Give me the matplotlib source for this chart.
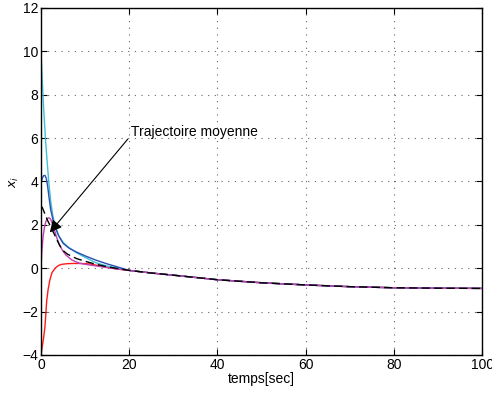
import matplotlib
matplotlib.use("Agg")
import matplotlib.pyplot as plt

plt.rcParams['font.family'] = ['Liberation Sans', 'DejaVu Sans']

# common tail shared by all trajectories (t >= 20)
t_tail = [20, 25, 30, 40, 50, 60, 70, 80, 90, 100]
y_tail = [-0.1, -0.22, -0.32, -0.53, -0.67, -0.77, -0.85, -0.9, -0.92, -0.93]

t_cyan = [0, 0.3, 0.6, 1.0, 1.4, 1.8, 2.2, 2.7, 3.3, 4.0, 5.0, 6.0, 8.0, 10, 12.5, 15, 17.5]
y_cyan = [10.0, 8.6, 7.4, 6.0, 4.9, 3.9, 3.1, 2.4, 1.9, 1.5, 1.2, 1.0, 0.72, 0.5, 0.25, 0.1, 0.0]

t_blue = [0, 0.3, 0.6, 0.9, 1.2, 1.5, 1.8, 2.2, 2.7, 3.3, 4.0, 5.0, 6.4, 8.0, 10, 12.5, 15, 17.5]
y_blue = [3.9, 4.15, 4.27, 4.28, 4.15, 3.8, 3.3, 2.7, 2.25, 1.85, 1.5, 1.15, 0.92, 0.75, 0.57, 0.37, 0.2, 0.05]

t_dash = [0, 0.3, 0.7, 1.1, 1.5, 2.0, 2.6, 3.3, 4.0, 4.9, 6.0, 8.0, 10, 12.5, 15, 17.5]
y_dash = [2.85, 2.8, 2.6, 2.4, 2.2, 2.0, 1.75, 1.45, 1.15, 0.83, 0.65, 0.45, 0.32, 0.18, 0.07, -0.02]

t_mag = [0, 0.2, 0.5, 0.8, 1.1, 1.4, 1.7, 1.9, 2.2, 2.6, 3.0, 3.5, 4.2, 5.0, 5.7, 7.0, 8.7, 11, 14, 17]
y_mag = [0.0, 0.8, 1.5, 1.9, 2.15, 2.28, 2.32, 2.32, 2.25, 2.05, 1.8, 1.45, 1.06, 0.78, 0.6, 0.38, 0.23, 0.15, 0.06, -0.03]

t_red = [0, 0.3, 0.6, 0.9, 1.3, 1.6, 2.0, 2.5, 3.2, 4.0, 4.7, 6.0, 7.3, 9, 11, 13, 15, 17.5]
y_red = [-4.0, -3.6, -3.2, -2.7, -1.5, -1.0, -0.55, -0.2, 0.0, 0.13, 0.18, 0.21, 0.22, 0.22, 0.2, 0.12, 0.04, -0.04]

fig = plt.figure(figsize=(4.92, 3.97), dpi=100)
ax = fig.add_axes([0.0833, 0.1058, 0.8967, 0.8742])

series = [
    (t_red, y_red, '#ff1a1a', '-'),
    (t_cyan, y_cyan, '#40c0d8', '-'),
    (t_blue, y_blue, '#2a4fb0', '-'),
    (t_mag, y_mag, '#c040b0', '-'),
    (t_dash, y_dash, 'black', (0, (6, 3))),
]
for t, y, c, ls in series:
    ax.plot(list(t) + t_tail, list(y) + y_tail, color=c, linestyle=ls, linewidth=1.0)

ax.set_xlim(0, 100)
ax.set_ylim(-4, 12)
ax.set_xticks([0, 20, 40, 60, 80, 100])
ax.set_yticks([-4, -2, 0, 2, 4, 6, 8, 10, 12])
ax.grid(True, linestyle=(0, (1, 5)), color='#666666', linewidth=0.8)
ax.tick_params(direction='in', top=True, right=True, labelsize=10, length=4, width=0.8, pad=2)
for s in ax.spines.values():
    s.set_linewidth(1.0)

ax.set_xlabel('temps[sec]', fontsize=10, labelpad=0)
ax.set_ylabel('$x_i$', fontsize=9, labelpad=1)

ax.annotate('Trajectoire moyenne', xy=(2.0, 1.65), xytext=(20.3, 6.3),
            fontsize=10, va='center', ha='left',
            arrowprops=dict(arrowstyle='-|>', color='black', lw=0.8,
                            mutation_scale=18, shrinkA=0, shrinkB=0,
                            relpos=(0, 0.2)))

fig.savefig('out.png', dpi=100)
